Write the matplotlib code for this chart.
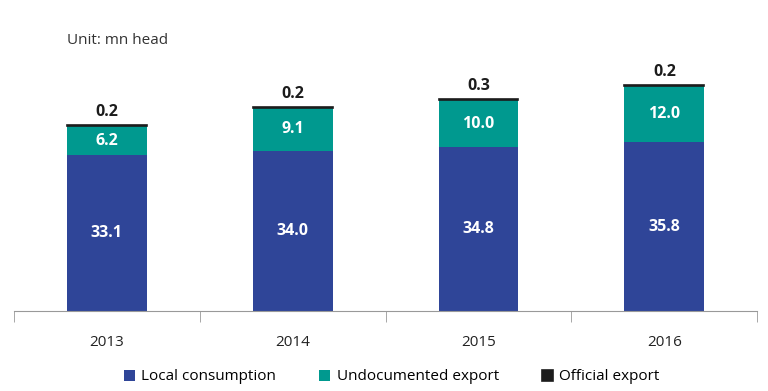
import matplotlib.pyplot as plt
import numpy as np

years = ["2013", "2014", "2015", "2016"]
local = [33.1, 34.0, 34.8, 35.8]
undocumented = [6.2, 9.1, 10.0, 12.0]
official = [0.2, 0.2, 0.3, 0.2]

c_local = "#2f4598"
c_undoc = "#00998f"
c_off = "#1c1c1c"

plt.rcParams["font.family"] = ["Open Sans", "DejaVu Sans"]

fig = plt.figure(figsize=(7.68, 3.91), dpi=100)
ax = fig.add_axes([0.018, 0.2046, 0.968, 0.642])

x = np.arange(len(years))
w = 0.43
local = np.array(local)
undocumented = np.array(undocumented)
official = np.array(official)

ax.bar(x, local, w, color=c_local, label="Local consumption")
ax.bar(x, undocumented, w, bottom=local, color=c_undoc, label="Undocumented export")
ax.bar(x, official, w, bottom=local + undocumented, color=c_off,
       edgecolor=c_off, linewidth=1.2, label="Official export")

for i in range(len(years)):
    ax.text(x[i], local[i] / 2, f"{local[i]:.1f}", ha="center", va="center",
            color="white", fontsize=11.5, fontweight="bold")
    ax.text(x[i], local[i] + undocumented[i] / 2, f"{undocumented[i]:.1f}",
            ha="center", va="center", color="white", fontsize=11.5, fontweight="bold")
    top = local[i] + undocumented[i] + official[i]
    ax.text(x[i], top + 2.7, f"{official[i]:.1f}", ha="center", va="center",
            color="#1c1c1c", fontsize=11.5, fontweight="bold")

ax.set_xlim(-0.5, len(years) - 0.5)
ax.set_ylim(0, 53.3)
ax.set_yticks([])
for s in ["top", "right", "left"]:
    ax.spines[s].set_visible(False)
ax.spines["bottom"].set_color("#999999")
ax.set_xticks(x)
ax.set_xticklabels(years, fontsize=11, color="#222222")
ax.tick_params(axis="x", which="major", length=0, pad=17)
ax.set_xticks(np.arange(-0.5, len(years), 1.0), minor=True)
ax.tick_params(axis="x", which="minor", length=8, color="#999999")

fig.text(67 / 768, 1 - 40 / 391, "Unit: mn head", fontsize=11, color="#333333",
         ha="left", va="center")

fig.legend(loc="center", bbox_to_anchor=(0.51, 1 - 377 / 391), ncol=3, frameon=False,
           fontsize=11, handlelength=0.75, handleheight=0.75, columnspacing=2.8,
           handletextpad=0.4)

fig.savefig("out.png", dpi=100)
